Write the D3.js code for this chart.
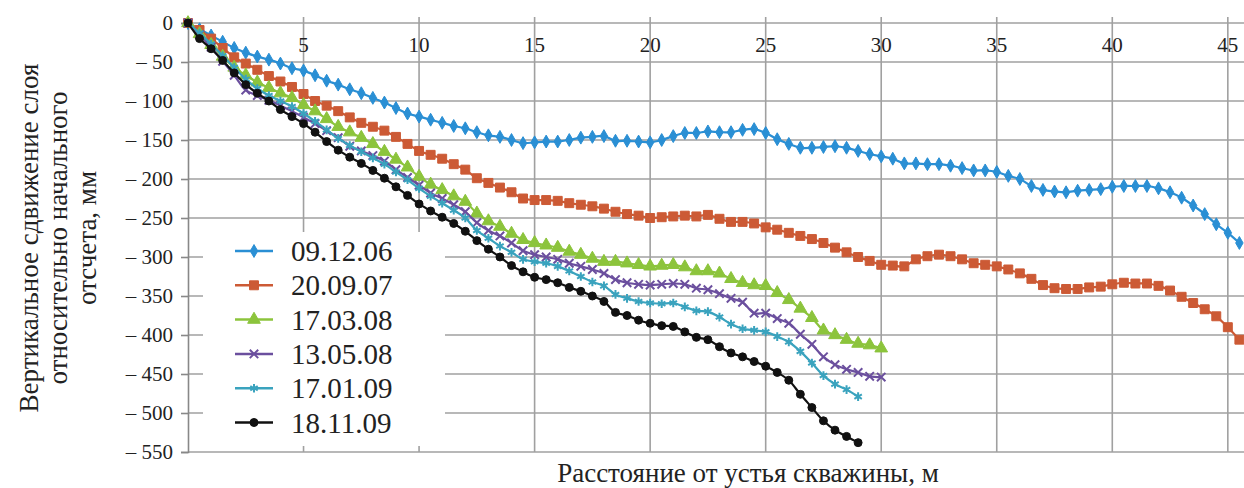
<!DOCTYPE html>
<html>
<head>
<meta charset="utf-8">
<script src="https://cdn.jsdelivr.net/npm/d3@7"></script>
<style>
  body { margin: 0; background: #fff; }
  svg text { font-family: "Liberation Serif", "Times New Roman", Times, "DejaVu Serif", "Noto Serif", serif; fill: #222; }
</style>
</head>
<body>
<div id="vis"></div>
<script>
// Constants for the chart
const FRAME_WIDTH = 1244;
const FRAME_HEIGHT = 488;
const PLOT = {left: 188, right: 1244, top: 23, bottom: 452};
const SERIF = "'Liberation Serif', 'Times New Roman', Times, 'DejaVu Serif', serif";

// series names (legend)
const SERIES_NAMES = ["09.12.06", "20.09.07", "17.03.08", "13.05.08", "17.01.09", "18.11.09"];
const SERIES_COLORS = ["#2a8fd4", "#cc5a35", "#8cc43c", "#6b4f9e", "#3aa3be", "#111111"];

// distance along the well, m (readings every 0.5 m)
const STEP = 0.5;

// vertical displacement, mm
const S_091206 = [0, -8, -16, -24, -32, -38, -43, -47, -52, -58, -61, -67, -74, -79, -85, -90, -96, -102, -109, -116,
  -120, -124, -128, -132, -135, -140, -144, -146, -150, -154, -153, -152, -152, -150, -147, -146, -145, -151, -151, -152,
  -153, -150, -145, -141, -141, -139, -140, -140, -137, -136, -141, -149, -155, -160, -160, -159, -158, -160, -164, -168,
  -171, -174, -180, -180, -181, -181, -183, -186, -189, -189, -191, -196, -200, -209, -214, -216, -217, -215, -214, -213,
  -210, -209, -209, -209, -212, -217, -224, -234, -245, -258, -269, -282];
const S_200907 = [0, -9, -20, -32, -44, -52, -60, -68, -75, -82, -91, -100, -106, -113, -121, -128, -133, -138, -146, -155,
  -164, -169, -174, -181, -188, -199, -205, -211, -217, -225, -227, -227, -228, -231, -233, -235, -238, -242, -245, -247,
  -250, -249, -248, -247, -248, -246, -251, -255, -255, -257, -262, -265, -269, -273, -277, -282, -288, -294, -300, -305,
  -310, -311, -312, -303, -299, -297, -299, -303, -308, -310, -312, -316, -321, -328, -336, -340, -341, -341, -339, -338,
  -335, -333, -334, -334, -337, -343, -351, -359, -367, -376, -390, -406];
const S_170308 = [0, -14, -28, -43, -57, -67, -76, -83, -90, -96, -105, -113, -123, -133, -140, -147, -155, -165, -175, -185,
  -197, -207, -214, -222, -229, -244, -254, -261, -270, -278, -282, -285, -288, -293, -297, -302, -306, -306, -308, -310,
  -312, -311, -310, -313, -318, -318, -321, -328, -333, -336, -337, -346, -355, -366, -378, -394, -400, -406, -411, -413,
  -417];
const S_130508 = [0, -15, -31, -49, -67, -86, -93, -99, -106, -113, -121, -129, -138, -147, -158, -164, -170, -177, -188, -198,
  -208, -218, -225, -233, -242, -256, -266, -273, -282, -292, -297, -300, -303, -308, -312, -316, -321, -329, -333, -335,
  -336, -335, -334, -335, -340, -342, -347, -353, -358, -372, -372, -379, -385, -399, -412, -428, -438, -444, -448, -453,
  -454];
const S_170109 = [0, -13, -27, -42, -57, -72, -84, -93, -100, -107, -116, -126, -137, -148, -157, -165, -173, -181, -191, -201,
  -212, -222, -231, -240, -250, -266, -276, -286, -294, -303, -306, -308, -312, -318, -325, -332, -337, -348, -353, -357,
  -359, -360, -359, -364, -369, -370, -377, -386, -392, -394, -396, -402, -409, -421, -436, -452, -463, -470, -479];
const S_181109 = [0, -20, -33, -48, -64, -79, -90, -100, -111, -120, -129, -140, -152, -163, -172, -180, -189, -199, -210, -221,
  -232, -241, -249, -257, -267, -279, -290, -300, -311, -319, -326, -329, -333, -339, -344, -350, -357, -371, -375, -381,
  -385, -388, -389, -396, -403, -406, -415, -423, -428, -434, -440, -448, -458, -476, -493, -510, -522, -530, -538];

const ALL_SERIES = [S_091206, S_200907, S_170308, S_130508, S_170109, S_181109];

// axis ticks
const X_TICKS = [5, 10, 15, 20, 25, 30, 35, 40, 45];
const Y_TICKS = [0, -50, -100, -150, -200, -250, -300, -350, -400, -450, -500, -550];

const FRAME = d3.select("#vis")
  .append("svg")
  .attr("width", FRAME_WIDTH)
  .attr("height", FRAME_HEIGHT)
  .attr("font-family", SERIF);

const X_SCALE = d3.scaleLinear()
  .domain([0, 45.7])
  .range([PLOT.left, PLOT.right]);
const Y_SCALE = d3.scaleLinear()
  .domain([-550, 0])
  .range([PLOT.bottom, PLOT.top]);

// horizontal gridlines
FRAME.append("g")
  .selectAll("line")
  .data(Y_TICKS)
  .enter()
  .append("line")
  .attr("x1", PLOT.left)
  .attr("x2", PLOT.right)
  .attr("y1", d => Y_SCALE(d))
  .attr("y2", d => Y_SCALE(d))
  .attr("stroke", "#a0a0a0")
  .attr("stroke-width", 1.6);

// vertical gridlines
FRAME.append("g")
  .selectAll("line")
  .data(X_TICKS)
  .enter()
  .append("line")
  .attr("x1", d => X_SCALE(d))
  .attr("x2", d => X_SCALE(d))
  .attr("y1", PLOT.top - 6)
  .attr("y2", PLOT.bottom)
  .attr("stroke", "#a0a0a0")
  .attr("stroke-width", 1.6);

// y axis (left)
const yAxis = FRAME.append("g")
  .attr("transform", "translate(" + PLOT.left + ",0)")
  .call(d3.axisLeft(Y_SCALE).tickValues(Y_TICKS).tickSize(7).tickPadding(8)
    .tickFormat(d => d === 0 ? "0" : "\u2013 " + Math.abs(d)));
yAxis.attr("font-family", SERIF).attr("font-size", 21);
yAxis.select(".domain").attr("stroke", "#888").attr("stroke-width", 1.6);
yAxis.selectAll(".tick line").attr("stroke", "#888").attr("stroke-width", 1.6);
yAxis.selectAll("text").attr("fill", "#222");

// x tick labels under the zero line
FRAME.append("g")
  .selectAll("text")
  .data(X_TICKS)
  .enter()
  .append("text")
  .attr("x", d => X_SCALE(d))
  .attr("y", 52)
  .attr("text-anchor", "middle")
  .attr("font-size", "21px")
  .text(d => d);

// series
const symbols = [d3.symbolDiamond, d3.symbolSquare, d3.symbolTriangle, d3.symbolX, d3.symbolAsterisk || d3.symbolX, d3.symbolCircle];
const symSizes = [48, 80, 70, 48, 52, 50];
const filled = [true, true, true, false, false, true];

const line = d3.line()
  .x((d, i) => X_SCALE(i * STEP))
  .y(d => Y_SCALE(d))
  .curve(d3.curveCatmullRom);

function drawMarker(g, k, x, y) {
  g.append("path")
    .attr("transform", "translate(" + x + "," + y + ")")
    .attr("d", d3.symbol().type(symbols[k]).size(symSizes[k])())
    .attr("fill", filled[k] ? SERIES_COLORS[k] : "none")
    .attr("stroke", SERIES_COLORS[k])
    .attr("stroke-width", filled[k] ? 1 : 2);
}

const seriesG = FRAME.append("g");
ALL_SERIES.forEach((vals, k) => {
  const g = seriesG.append("g");
  g.append("path")
    .datum(vals)
    .attr("d", line)
    .attr("fill", "none")
    .attr("stroke", SERIES_COLORS[k])
    .attr("stroke-width", 2.2);
  g.selectAll("path.mk")
    .data(vals)
    .enter()
    .append("path")
    .attr("class", "mk")
    .attr("transform", (d, i) => "translate(" + X_SCALE(i * STEP) + "," + Y_SCALE(d) + ")")
    .attr("d", d3.symbol().type(symbols[k]).size(symSizes[k])())
    .attr("fill", filled[k] ? SERIES_COLORS[k] : "none")
    .attr("stroke", SERIES_COLORS[k])
    .attr("stroke-width", filled[k] ? 1 : 2);
});

// legend
const LEG = {x: 203, y: 232, w: 242, h: 214};
const legend = FRAME.append("g");
legend.append("rect")
  .attr("x", LEG.x)
  .attr("y", LEG.y)
  .attr("width", LEG.w)
  .attr("height", LEG.h)
  .attr("fill", "#fff");
SERIES_NAMES.forEach((name, k) => {
  const cy = 251 + k * 34.3;
  legend.append("line")
    .attr("x1", 235).attr("x2", 273)
    .attr("y1", cy).attr("y2", cy)
    .attr("stroke", SERIES_COLORS[k])
    .attr("stroke-width", 2.5);
  drawMarker(legend, k, 254, cy);
  legend.append("text")
    .attr("x", 291)
    .attr("y", cy + 10)
    .attr("font-size", "29px")
    .text(name);
});

// axis titles
const yTitle = ["Вертикальное сдвижение слоя", "относительно начального", "отсчета, мм"];
yTitle.forEach((t, i) => {
  FRAME.append("text")
    .attr("transform", "translate(" + (38 + i * 29) + ",238) rotate(-90)")
    .attr("text-anchor", "middle")
    .attr("font-size", "27px")
    .text(t);
});

FRAME.append("text")
  .attr("x", 748)
  .attr("y", 482)
  .attr("text-anchor", "middle")
  .attr("font-size", "27px")
  .text("Расстояние от устья скважины, м");
</script>
</body>
</html>
